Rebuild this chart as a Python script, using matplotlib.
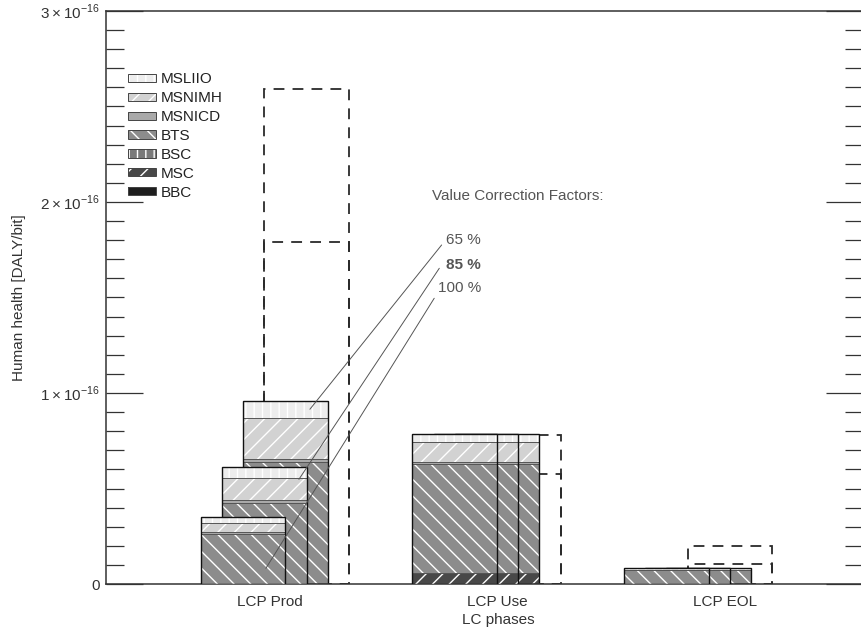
import numpy as np
import matplotlib
matplotlib.use("Agg")
import matplotlib.pyplot as plt
from matplotlib.patches import Patch
from matplotlib.ticker import MultipleLocator

plt.rcParams['font.family'] = ['Liberation Sans', 'DejaVu Sans']
plt.rcParams['mathtext.fontset'] = 'custom'
plt.rcParams['mathtext.rm'] = 'Liberation Sans'
plt.rcParams['hatch.linewidth'] = 1.0

E = 1e-16

phases = ['LCP Prod', 'LCP Use', 'LCP EOL']
factors = ['100 %', '85 %', '65 %']      # bar slot 0, 1, 2 inside each phase
components = ['BBC', 'MSC', 'BSC', 'BTS', 'MSNICD', 'MSNIMH', 'MSLIIO']   # bottom -> top

# values in 1e-16 DALY/bit; rows = phase, cols = factor slot
bbc    = [[0.0, 0.0, 0.0],    [0.0, 0.0, 0.0],       [0.0, 0.0, 0.0]]
msc    = [[0.0, 0.0, 0.0],    [0.059, 0.059, 0.059], [0.0, 0.0, 0.0]]
bsc    = [[0.0, 0.0, 0.0],    [0.0, 0.0, 0.0],       [0.0, 0.0, 0.0]]
bts    = [[0.262, 0.426, 0.639], [0.569, 0.569, 0.569], [0.074, 0.074, 0.074]]
msnicd = [[0.012, 0.014, 0.014], [0.012, 0.012, 0.012], [0.0, 0.0, 0.0]]
msnimh = [[0.047, 0.113, 0.218], [0.105, 0.105, 0.105], [0.0, 0.0, 0.0]]
msliio = [[0.028, 0.058, 0.089], [0.040, 0.040, 0.040], [0.008, 0.008, 0.008]]

# dashed boxes (upper estimates), 1e-16 DALY/bit
upper_hi = [2.59, 0.782, 0.20]
upper_lo = [1.79, 0.574, 0.103]

data = {'BBC': bbc, 'MSC': msc, 'BSC': bsc, 'BTS': bts,
        'MSNICD': msnicd, 'MSNIMH': msnimh, 'MSLIIO': msliio}
face = {'MSLIIO': '#ededed', 'MSNIMH': '#d2d2d2', 'MSNICD': '#a9a9a9',
        'BTS': '#8c8c8c', 'BSC': '#7a7a7a', 'MSC': '#484848', 'BBC': '#1e1e1e'}
hatch = {'MSLIIO': '||', 'MSNIMH': '//', 'MSNICD': '', 'BTS': '\\\\',
         'BSC': '||', 'MSC': '//', 'BBC': ''}

width = 0.4
step = 0.1

fig = plt.figure(figsize=(8.62, 6.34), dpi=100)
ax = fig.add_axes([106 / 862, 50 / 634, 757 / 862, 573 / 634])

# dashed boxes sit behind the bars, one slot right of the last bar
for g in range(len(phases)):
    for top in (upper_hi[g], upper_lo[g]):
        ax.bar(g + 3 * step, top * E, width=width, align='edge', fill=False,
               edgecolor='#2a2a2a', linewidth=1.3, linestyle=(0, (6, 4.5)), zorder=1)

# slot 0 is in front, so draw slot 2 first
z = 2
for slot in (2, 1, 0):
    for g in range(len(phases)):
        x = g + slot * step
        bottom = 0.0
        for comp in components:
            h = data[comp][g][slot] * E
            if h <= 0:
                continue
            ax.bar(x, h, width=width, bottom=bottom, align='edge', color=face[comp],
                   hatch=hatch[comp], edgecolor='white', linewidth=0, zorder=z)
            ax.bar(x, h, width=width, bottom=bottom, align='edge', fill=False,
                   edgecolor='#555555', linewidth=0.6, zorder=z + 0.1)
            bottom += h
        ax.bar(x, bottom, width=width, align='edge', fill=False,
               edgecolor='#111111', linewidth=1.0, zorder=z + 0.2)
    z += 1

ax.set_xlim(-0.447, 3.128)
ax.set_ylim(0, 3 * E)

ax.yaxis.set_major_locator(MultipleLocator(E))
ax.yaxis.set_minor_locator(MultipleLocator(0.1 * E))
ax.set_yticks([0, E, 2 * E, 3 * E],
              ['0', r'$1\times10^{-16}$', r'$2\times10^{-16}$', r'$3\times10^{-16}$'])
ax.tick_params(axis='y', which='both', direction='in', left=True, right=True,
               colors='#333333', labelsize=11, pad=4.5)
ax.tick_params(axis='y', which='major', length=26.5, width=0.9)
ax.tick_params(axis='y', which='minor', length=13, width=0.9)

tick_pos = [0.325, 1.40, 2.475]
ax.set_xticks(tick_pos, phases)
ax.tick_params(axis='x', length=0, pad=8, labelsize=11, colors='#333333')

for side in ('left', 'bottom', 'top'):
    ax.spines[side].set_color('#333333')
    ax.spines[side].set_linewidth(1.1)
ax.spines['right'].set_visible(False)

ax.set_ylabel('Human health [DALY/bit]', fontsize=11, color='#333333')
ax.yaxis.set_label_coords(-0.106, 0.5)
ax.set_xlabel('LC phases', fontsize=11, color='#333333')
ax.xaxis.set_label_coords(0.5185, -0.05)

# value correction factor callouts
ax.text(1.093, 2.031 * E, 'Value Correction Factors:', fontsize=11, color='#555555',
        ha='left', va='center')
callouts = [
    ('65 %', 1.801, 'normal', (1.138, 1.775), (0.516, 0.915)),
    ('85 %', 1.670, 'bold', (1.127, 1.653), (0.464, 0.548)),
    ('100 %', 1.550, 'normal', (1.103, 1.496), (0.308, 0.082)),
]
for label, ty, weight, start, end in callouts:
    ax.text(1.324, ty * E, label, fontsize=11, color='#555555', fontweight=weight,
            ha='right', va='center')
    ax.annotate('', xy=(end[0], end[1] * E), xytext=(start[0], start[1] * E),
                arrowprops=dict(arrowstyle='-', color='#555555', lw=0.7,
                                shrinkA=0, shrinkB=0), zorder=20)

handles = []
for comp in components[::-1]:
    handles.append((Patch(facecolor=face[comp], hatch=hatch[comp], edgecolor='white', linewidth=0),
                    Patch(fill=False, edgecolor='#444444', linewidth=0.7)))
ax.legend(handles, components[::-1], loc='upper left', bbox_to_anchor=(0.029, 0.893),
          frameon=False, fontsize=11, handlelength=1.85, handleheight=0.45,
          handletextpad=0.3, labelspacing=0.32, borderpad=0, borderaxespad=0,
          labelcolor='#222222')

fig.savefig('out.png', dpi=100)
plt.close()
